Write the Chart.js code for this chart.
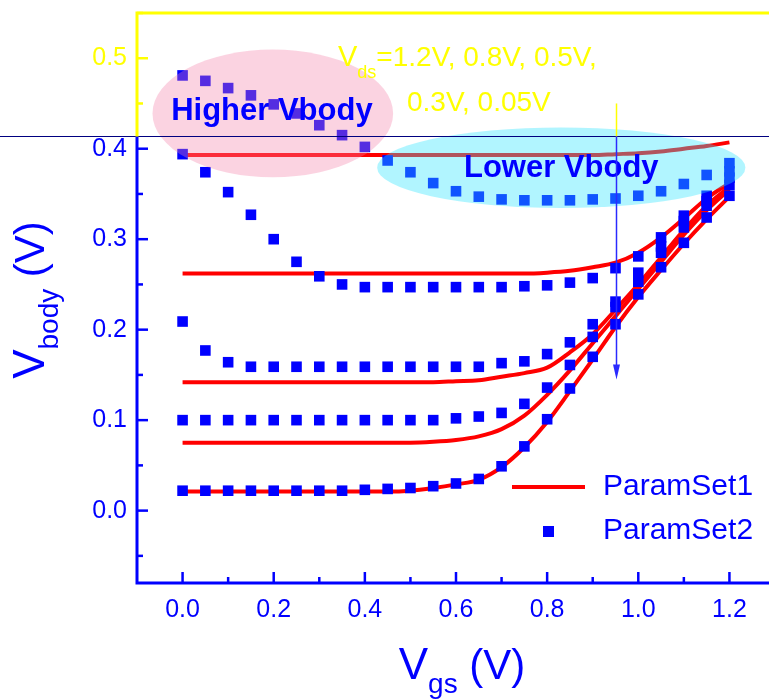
<!DOCTYPE html>
<html>
<head>
<meta charset="utf-8">
<title>Vbody vs Vgs</title>
<script src="https://cdn.jsdelivr.net/npm/chart.js@4.4.0/dist/chart.umd.min.js"></script>
<style>
  html, body { margin: 0; padding: 0; background: #fff; overflow: hidden; }
  #wrap { width: 800px; height: 700px; }
</style>
</head>
<body>
<div id="wrap"><canvas id="chart" width="800" height="700"></canvas></div>
<script>
// gate voltage sweep (V)
const vgs = [0, 0.05, 0.1, 0.15, 0.2, 0.25, 0.3, 0.35, 0.4, 0.45, 0.5, 0.55, 0.6,
             0.65, 0.7, 0.75, 0.8, 0.85, 0.9, 0.95, 1.0, 1.05, 1.1, 1.15, 1.2];

// ParamSet1 (red lines), one per Vds
const set1_vds12 = [0.393, 0.393, 0.393, 0.393, 0.393, 0.393, 0.393, 0.393, 0.393, 0.393, 0.393, 0.393, 0.393,
                    0.393, 0.393, 0.393, 0.393, 0.393, 0.393, 0.394, 0.395, 0.397, 0.400, 0.403, 0.407];
const set1_vds08 = [0.262, 0.262, 0.262, 0.262, 0.262, 0.262, 0.262, 0.262, 0.262, 0.262, 0.262, 0.262, 0.262,
                    0.262, 0.262, 0.262, 0.263, 0.265, 0.269, 0.274, 0.285, 0.302, 0.323, 0.345, 0.362];
const set1_vds05 = [0.142, 0.142, 0.142, 0.142, 0.142, 0.142, 0.142, 0.142, 0.142, 0.142, 0.142, 0.142, 0.143,
                    0.144, 0.148, 0.152, 0.158, 0.175, 0.195, 0.222, 0.250, 0.280, 0.310, 0.337, 0.358];
const set1_vds03 = [0.075, 0.075, 0.075, 0.075, 0.075, 0.075, 0.075, 0.075, 0.075, 0.075, 0.075, 0.076, 0.078,
                    0.082, 0.090, 0.105, 0.128, 0.155, 0.185, 0.215, 0.245, 0.275, 0.305, 0.332, 0.355];
const set1_vds005 = [0.021, 0.021, 0.021, 0.021, 0.021, 0.021, 0.021, 0.021, 0.021, 0.021, 0.022, 0.025, 0.029,
                     0.034, 0.048, 0.070, 0.098, 0.132, 0.167, 0.203, 0.236, 0.266, 0.295, 0.322, 0.347];

// ParamSet2 (blue squares), one per Vds
const set2_vds12 = [0.481, 0.475, 0.467, 0.459, 0.449, 0.439, 0.426, 0.415, 0.402, 0.387, 0.374, 0.362, 0.353,
                    0.347, 0.344, 0.343, 0.343, 0.343, 0.344, 0.345, 0.348, 0.353, 0.361, 0.371, 0.384];
const set2_vds08 = [0.394, 0.374, 0.352, 0.327, 0.300, 0.275, 0.259, 0.250, 0.247, 0.247, 0.247, 0.247, 0.247,
                    0.247, 0.247, 0.248, 0.249, 0.252, 0.257, 0.268, 0.281, 0.302, 0.326, 0.348, 0.375];
const set2_vds05 = [0.209, 0.177, 0.164, 0.159, 0.159, 0.159, 0.159, 0.159, 0.159, 0.159, 0.159, 0.159, 0.159,
                    0.159, 0.163, 0.165, 0.173, 0.186, 0.206, 0.231, 0.263, 0.292, 0.320, 0.342, 0.368];
const set2_vds03 = [0.100, 0.100, 0.100, 0.100, 0.100, 0.100, 0.100, 0.100, 0.100, 0.100, 0.100, 0.100, 0.102,
                    0.104, 0.108, 0.118, 0.136, 0.161, 0.192, 0.225, 0.253, 0.285, 0.313, 0.337, 0.360];
const set2_vds005 = [0.022, 0.022, 0.022, 0.022, 0.022, 0.022, 0.022, 0.022, 0.023, 0.024, 0.025, 0.027, 0.030,
                     0.035, 0.049, 0.071, 0.101, 0.135, 0.170, 0.206, 0.239, 0.269, 0.296, 0.324, 0.348];

const xTicks = [0, 0.2, 0.4, 0.6, 0.8, 1.0, 1.2];
const yTicks = [0, 0.1, 0.2, 0.3, 0.4, 0.5];
const seriesNames = ['ParamSet1', 'ParamSet2'];

const BLUE = '#0000ff';
const RED = '#ff0000';
const YELLOW = '#ffff00';
const NAVY = '#000080';
const FONT = '"Liberation Sans", Arial, sans-serif';

// above this Vbody value the frame is drawn yellow
const splitAt = 0.414;

function pts(ys) {
    return vgs.map((v, i) => ({x: v, y: ys[i]}));
}

const squares = [set2_vds12, set2_vds08, set2_vds05, set2_vds03, set2_vds005].map(ys => ({
    label: seriesNames[1],
    data: pts(ys),
    showLine: false,
    pointStyle: 'rect',
    pointRadius: 7.5,
    pointBackgroundColor: BLUE,
    pointBorderWidth: 0,
    borderColor: BLUE
}));

const lines = [set1_vds12, set1_vds08, set1_vds05, set1_vds03, set1_vds005].map(ys => ({
    label: seriesNames[0],
    data: pts(ys),
    showLine: true,
    borderColor: RED,
    borderWidth: 4,
    pointRadius: 0,
    cubicInterpolationMode: 'monotone'
}));

function drawSubText(ctx, parts, x, y) {
    // parts: [text, size, baseline offset]
    let cx = x;
    for (const p of parts) {
        ctx.font = p[1] + 'px ' + FONT;
        ctx.fillText(p[0], cx, y + p[2]);
        cx += ctx.measureText(p[0]).width;
    }
    return cx - x;
}

function measureSub(ctx, parts) {
    let w = 0;
    for (const p of parts) {
        ctx.font = p[1] + 'px ' + FONT;
        w += ctx.measureText(p[0]).width;
    }
    return w;
}

const overlay = {
    id: 'overlay',
    afterDraw(chart) {
        const {ctx, chartArea: a, scales: {x, y}} = chart;
        const X = v => x.getPixelForValue(v);
        const Y = v => y.getPixelForValue(v);
        const ySplit = Math.round(Y(splitAt)) + 0.5;
        ctx.save();

        // highlight ellipses
        const bubbles = [
            {cx: 0.198, cy: 0.439, rx: 0.264, ry: 0.0706, fill: 'rgba(243,130,169,0.35)', text: 'Higher Vbody', tx: 0.196, ty: 0.441},
            {cx: 0.831, cy: 0.379, rx: 0.404, ry: 0.0445, fill: 'rgba(43,227,255,0.37)', text: 'Lower Vbody', tx: 0.831, ty: 0.378}
        ];
        for (const b of bubbles) {
            ctx.beginPath();
            ctx.ellipse(X(b.cx), Y(b.cy), X(b.cx + b.rx) - X(b.cx), Y(b.cy) - Y(b.cy + b.ry), 0, 0, Math.PI * 2);
            ctx.fillStyle = b.fill;
            ctx.fill();
        }
        ctx.fillStyle = BLUE;
        ctx.font = 'bold 31px ' + FONT;
        ctx.textAlign = 'center';
        ctx.textBaseline = 'middle';
        for (const b of bubbles) ctx.fillText(b.text, X(b.tx), Y(b.ty));

        // thin navy rule across the whole picture
        ctx.strokeStyle = NAVY;
        ctx.lineWidth = 1;
        ctx.beginPath();
        ctx.moveTo(0, ySplit);
        ctx.lineTo(chart.width, ySplit);
        ctx.stroke();

        // frame: bottom + left axis, top border
        ctx.lineWidth = 3;
        ctx.lineCap = 'butt';
        ctx.strokeStyle = BLUE;
        ctx.beginPath();
        ctx.moveTo(a.left, ySplit);
        ctx.lineTo(a.left, a.bottom);
        ctx.lineTo(chart.width, a.bottom);
        ctx.stroke();
        ctx.strokeStyle = YELLOW;
        ctx.beginPath();
        ctx.moveTo(a.left, ySplit);
        ctx.lineTo(a.left, a.top);
        ctx.lineTo(chart.width, a.top);
        ctx.stroke();

        // inward tick marks
        ctx.lineWidth = 2.5;
        const tick = (x1, y1, x2, y2, col) => {
            ctx.strokeStyle = col;
            ctx.beginPath();
            ctx.moveTo(x1, y1);
            ctx.lineTo(x2, y2);
            ctx.stroke();
        };
        for (const v of xTicks) tick(X(v), a.bottom, X(v), a.bottom - 11, BLUE);
        for (const v of xTicks.slice(0, -1)) tick(X(v + 0.1), a.bottom, X(v + 0.1), a.bottom - 6, BLUE);
        for (const v of yTicks) {
            const p = Y(v);
            tick(a.left, p, a.left + 11, p, p < ySplit ? YELLOW : BLUE);
        }
        for (const v of [-0.05].concat(yTicks.map(t => t + 0.05))) {
            const p = Y(v);
            if (p < a.top) continue;
            tick(a.left, p, a.left + 6, p, p < ySplit ? YELLOW : BLUE);
        }

        // arrow showing decreasing Vds
        const ax = Math.round(X(0.95)) + 0.5;
        const aTop = Y(0.45), aEnd = Y(0.145);
        ctx.lineWidth = 1.5;
        tick(ax, aTop, ax, ySplit, YELLOW);
        tick(ax, ySplit, ax, aEnd - 12, '#2a2aff');
        ctx.fillStyle = '#2a2aff';
        ctx.beginPath();
        ctx.moveTo(ax - 3.5, aEnd - 15);
        ctx.lineTo(ax + 3.5, aEnd - 15);
        ctx.lineTo(ax, aEnd);
        ctx.closePath();
        ctx.fill();

        // Vds annotation
        ctx.fillStyle = YELLOW;
        ctx.textAlign = 'left';
        ctx.textBaseline = 'alphabetic';
        drawSubText(ctx, [['V', 29, 0], ['ds', 18, 12], ['=1.2V, 0.8V, 0.5V,', 28, 0]], 338, 66);
        drawSubText(ctx, [['0.3V, 0.05V', 28, 0]], 407, 111);

        // legend
        const lx = 512, ly1 = 487, ly2 = 531;
        ctx.strokeStyle = RED;
        ctx.lineWidth = 4;
        ctx.beginPath();
        ctx.moveTo(lx, ly1);
        ctx.lineTo(lx + 73, ly1);
        ctx.stroke();
        ctx.fillStyle = BLUE;
        ctx.fillRect(lx + 31, ly2 - 5, 11, 11);
        ctx.font = '30px ' + FONT;
        ctx.textBaseline = 'middle';
        ctx.fillText(seriesNames[0], 603, ly1);
        ctx.fillText(seriesNames[1], 603, ly2);

        // axis titles
        ctx.textBaseline = 'alphabetic';
        const xt = [['V', 44, 0], ['gs', 28, 14], [' (V)', 42, 0]];
        drawSubText(ctx, xt, 462 - measureSub(ctx, xt) / 2, 679);

        const yt = [['V', 44, 0], ['body', 28, 14], [' (V)', 42, 0]];
        ctx.save();
        ctx.translate(44, 300);
        ctx.rotate(-Math.PI / 2);
        drawSubText(ctx, yt, -measureSub(ctx, yt) / 2, 0);
        ctx.restore();

        ctx.restore();
    }
};

new Chart(document.getElementById('chart'), {
    type: 'scatter',
    data: {datasets: squares.concat(lines)},
    options: {
        responsive: false,
        animation: false,
        devicePixelRatio: 1,
        layout: {padding: {top: 13, right: 25, left: 0, bottom: 0}},
        plugins: {
            legend: {display: false},
            tooltip: {enabled: false}
        },
        scales: {
            x: {
                type: 'linear',
                min: -0.1,
                max: 1.3,
                afterBuildTicks: s => { s.ticks = xTicks.map(v => ({value: v})); },
                afterFit: s => { s.height = 117; s.paddingLeft = 0; s.paddingRight = 0; },
                grid: {display: false, drawTicks: false},
                border: {display: false},
                ticks: {
                    color: BLUE,
                    font: {family: FONT, size: 25},
                    padding: 12,
                    maxRotation: 0,
                    autoSkip: false,
                    callback: v => Number(v).toFixed(1)
                }
            },
            y: {
                type: 'linear',
                min: -0.08,
                max: 0.55,
                afterBuildTicks: s => { s.ticks = yTicks.map(v => ({value: v})); },
                afterFit: s => { s.width = 137; s.paddingTop = 0; s.paddingBottom = 0; },
                grid: {display: false, drawTicks: false},
                border: {display: false},
                ticks: {
                    color: c => (c.tick && c.tick.value > 0.45) ? YELLOW : BLUE,
                    font: {family: FONT, size: 25},
                    padding: 10,
                    autoSkip: false,
                    callback: v => Number(v).toFixed(1)
                }
            }
        }
    },
    plugins: [overlay]
});
</script>
</body>
</html>
